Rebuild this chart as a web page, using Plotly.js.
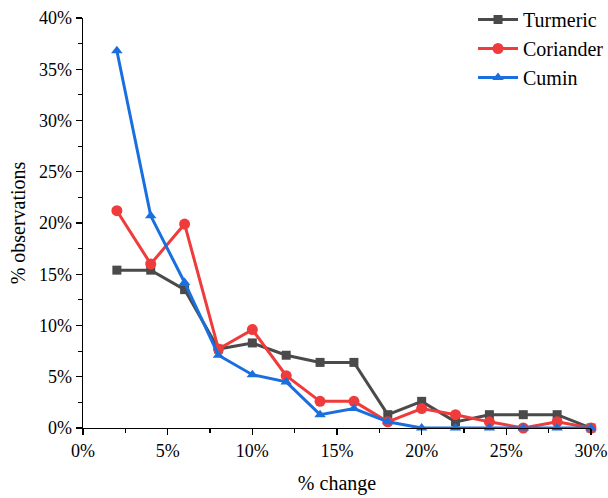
<!DOCTYPE html>
<html>
<head>
<meta charset="utf-8">
<script src="https://cdn.plot.ly/plotly-3.0.1.min.js"></script>
<style>body{margin:0;padding:0;background:#fff;}#chart{width:608px;height:498px;}</style>
</head>
<body>
<div id="chart"></div>
<script>
const changePct = [2, 4, 6, 8, 10, 12, 14, 16, 18, 20, 22, 24, 26, 28, 30];
const turmeric = [15.4, 15.4, 13.5, 7.7, 8.3, 7.1, 6.4, 6.4, 1.3, 2.6, 0.6, 1.3, 1.3, 1.3, 0];
const coriander = [21.2, 16.0, 19.9, 7.7, 9.6, 5.1, 2.6, 2.6, 0.6, 1.9, 1.3, 0.6, 0, 0.6, 0];
const cumin = [36.8, 20.7, 14.2, 7.1, 5.2, 4.5, 1.3, 1.9, 0.6, 0, 0, 0, 0, 0, 0];
const seriesNames = ['Turmeric', 'Coriander', 'Cumin'];
const xTickVals = [0, 5, 10, 15, 20, 25, 30];
const yTickVals = [0, 5, 10, 15, 20, 25, 30, 35, 40];

const colors = ['#4a4a4a', '#ef3b3b', '#1a6fdf'];
const symbols = ['square', 'circle', 'triangle-up'];
const sizes = [9, 11, 10];
const data = [turmeric, coriander, cumin].map((ys, i) => ({
  x: changePct, y: ys, type: 'scatter', mode: 'lines+markers', name: seriesNames[i],
  line: {color: colors[i], width: 3},
  marker: {color: colors[i], symbol: symbols[i], size: sizes[i]},
  cliponaxis: false
}));

const fam = 'Liberation Serif';
const layout = {
  width: 608, height: 498,
  margin: {l: 83, r: 17, t: 18, b: 70, autoexpand: false},
  paper_bgcolor: '#fff', plot_bgcolor: '#fff',
  font: {family: fam, size: 18, color: '#000'},
  showlegend: true,
  legend: {xref: 'container', yref: 'container', x: 0.778, y: 1, xanchor: 'left', yanchor: 'top',
           bgcolor: 'rgba(0,0,0,0)',
           font: {family: fam, size: 20, color: '#000'}, tracegroupgap: 0, itemwidth: 40},
  xaxis: {
    range: [0, 30], tickvals: xTickVals, ticktext: xTickVals.map(v => v + '%'),
    showgrid: false, zeroline: false, showline: true, linecolor: '#000', linewidth: 1.3,
    ticks: 'outside', ticklen: 6, tickcolor: '#000', tickwidth: 1.3,
    minor: {ticks: 'outside', tickvals: [2.5, 7.5, 12.5, 17.5, 22.5, 27.5], ticklen: 4, tickcolor: '#000', tickwidth: 1.2, showgrid: false},
    title: {text: '% change', font: {family: fam, size: 20, color: '#000'}, standoff: 16},
    tickfont: {family: fam, size: 18, color: '#000'}
  },
  yaxis: {
    range: [0, 40], tickvals: yTickVals, ticktext: yTickVals.map(v => v + '%'),
    showgrid: false, zeroline: false, showline: true, linecolor: '#000', linewidth: 1.3,
    ticks: 'outside', ticklen: 6, tickcolor: '#000', tickwidth: 1.3,
    minor: {ticks: 'outside', tickvals: [2.5, 7.5, 12.5, 17.5, 22.5, 27.5, 32.5, 37.5], ticklen: 4, tickcolor: '#000', tickwidth: 1.2, showgrid: false},
    title: {text: '% observations', font: {family: fam, size: 20, color: '#000'}, standoff: 8},
    tickfont: {family: fam, size: 18, color: '#000'}
  }
};
Plotly.newPlot('chart', data, layout, {displayModeBar: false, staticPlot: true});
</script>
</body>
</html>
